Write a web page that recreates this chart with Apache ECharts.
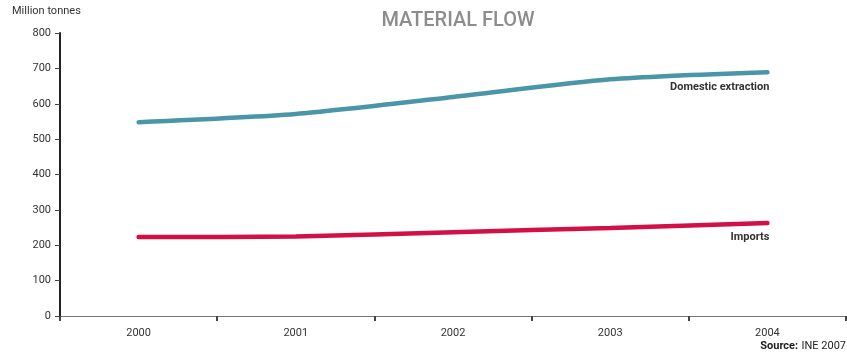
<!DOCTYPE html>
<html>
<head>
<meta charset="utf-8">
<script src="https://cdn.jsdelivr.net/npm/echarts@6/dist/echarts.min.js"></script>
<style>
  html, body { margin: 0; padding: 0; background: #fff; }
  #chart { width: 847px; height: 356px; }
</style>
</head>
<body>
<div id="chart"></div>
<script>
// Material flow, million tonnes
const years = ['2000', '2001', '2002', '2003', '2004'];
const domesticExtraction = [548, 571, 619, 669, 689];
const imports = [223, 225, 237, 249, 263];
const yTicks = { min: 0, max: 800, interval: 100 };

const FONT = 'Roboto, "DejaVu Sans", sans-serif';

// Series name printed just under the line's last point
function endLabel(name) {
  return {
    show: true, formatter: name, align: 'right', verticalAlign: 'top',
    distance: 0, offset: [2, 9],
    color: '#333', fontSize: 11, fontWeight: 'bold', fontFamily: FONT
  };
}

const chart = echarts.init(document.getElementById('chart'), null, { renderer: 'canvas' });
chart.setOption({
  animation: false,
  backgroundColor: '#fff',
  title: {
    text: 'MATERIAL FLOW',
    left: 453,
    textAlign: 'center',
    top: 6,
    textStyle: { color: '#8c8c8c', fontSize: 20, fontWeight: 500, fontFamily: FONT }
  },
  graphic: [
    { type: 'text', left: 12, top: 6,
      style: { text: 'Million tonnes', fontSize: 11, fill: '#333', fontFamily: FONT } },
    { type: 'text', right: 1, bottom: 4,
      style: { rich: {
        b: { fontWeight: 'bold', fontSize: 11, fill: '#222', fontFamily: FONT },
        n: { fontSize: 11, fill: '#222', fontFamily: FONT }
      }, text: '{b|Source:} {n|INE 2007}' } }
  ],
  grid: { left: 60, right: 1, top: 33, bottom: 40, containLabel: false },
  xAxis: {
    type: 'category',
    data: years,
    boundaryGap: true,
    axisLine: { lineStyle: { color: '#777', width: 1 } },
    axisTick: { show: true, length: 5, inside: false, lineStyle: { color: '#444', width: 2 } },
    axisLabel: { color: '#333', fontSize: 11, margin: 12, fontFamily: FONT },
    splitLine: { show: false }
  },
  yAxis: {
    type: 'value',
    min: yTicks.min, max: yTicks.max, interval: yTicks.interval,
    axisLine: { show: true, lineStyle: { color: '#222', width: 2 } },
    axisTick: { show: true, length: 5, lineStyle: { color: '#444', width: 1 } },
    axisLabel: { color: '#333', fontSize: 11, margin: 9, fontFamily: FONT },
    splitLine: { show: false }
  },
  series: [
    {
      name: 'Domestic extraction',
      type: 'line',
      data: domesticExtraction,
      smooth: 0.25,
      symbol: 'none',
      lineStyle: { color: '#4a95a8', width: 4.5, cap: 'round' },
      itemStyle: { color: '#4a95a8' },
      endLabel: endLabel('Domestic extraction')
    },
    {
      name: 'Imports',
      type: 'line',
      data: imports,
      smooth: 0.25,
      symbol: 'none',
      lineStyle: { color: '#d20f47', width: 4.5, cap: 'round' },
      itemStyle: { color: '#d20f47' },
      endLabel: endLabel('Imports')
    }
  ]
});
</script>
</body>
</html>
